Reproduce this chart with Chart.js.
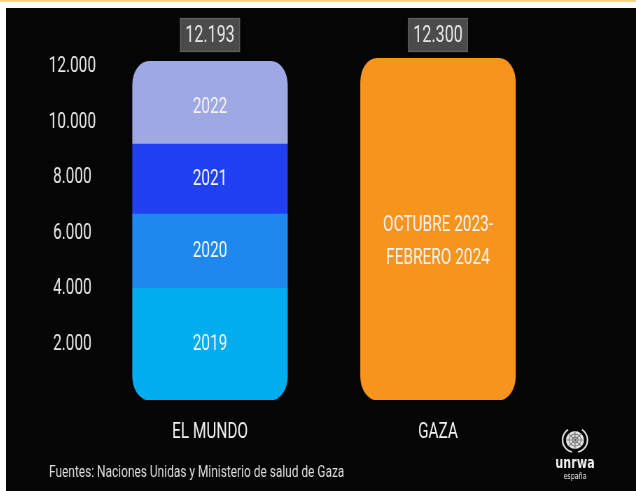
<!DOCTYPE html>
<html>
<head>
<meta charset="utf-8">
<script src="https://cdn.jsdelivr.net/npm/chart.js@4"></script>
<style>
  html, body { margin: 0; padding: 0; background: #fff; }
  body { width: 636px; height: 491px; position: relative; overflow: hidden; }
  #topline { position: absolute; left: 0; top: 0; width: 636px; height: 2px; background: #f8d487; }
  #panel { position: absolute; left: 6px; top: 8px; width: 630px; height: 483px; background: #050505; }
  #chart { display: block; }
</style>
</head>
<body>
<div id="topline"></div>
<!-- the bitmap is wider than its box: everything gets squeezed to look like a condensed typeface -->
<div id="panel"><canvas id="chart" width="900" height="483" style="width:630px;height:483px"></canvas></div>
<script>
const categories = ["EL MUNDO", "GAZA"]
const years = ["2019", "2020", "2021", "2022"]
const mundoByYear = [4019, 2674, 2515, 2985]
const yearColors = ["#00aeef", "#1e88ee", "#2040f2", "#9ea8e2"]
const gazaValue = 12300
const gazaLabel = ["OCTUBRE 2023-", "FEBRERO 2024"]
const gazaColor = "#f7941e"
const yTicks = [2000, 4000, 6000, 8000, 10000, 12000]
const sourceText = "Fuentes: Naciones Unidas y Ministerio de salud de Gaza"

const K = 0.7            // horizontal squeeze (630 / 900)
const FONT = "Roboto, 'Liberation Sans', sans-serif"
const R = 24

// 12193 -> "12.193"
const fmt = v => String(v).replace(/\B(?=(\d{3})+(?!\d))/g, ".")

const datasets = years.map((y, i) =>
{
    let radius = 0
    if (i == 0) radius = {bottomLeft: R, bottomRight: R, topLeft: 0, topRight: 0}
    if (i == years.length - 1) radius = {topLeft: R, topRight: R, bottomLeft: 0, bottomRight: 0}
    return {
        label: y,
        data: [mundoByYear[i], null],
        backgroundColor: yearColors[i],
        borderWidth: 0,
        borderSkipped: false,
        borderRadius: radius,
        barThickness: 155 / K,
        inner: [y],
    }
})
datasets.push({
    label: "Gaza",
    data: [null, gazaValue],
    backgroundColor: gazaColor,
    borderWidth: 0,
    borderSkipped: false,
    borderRadius: R,
    barThickness: 155 / K,
    inner: gazaLabel,
})

const totals = [mundoByYear.reduce((a, b) => a + b, 0), gazaValue]

function drawEmblem(ctx, cx, cy)
{
    ctx.save()
    ctx.translate(cx, cy)
    ctx.scale(1 / K, 1)
    ctx.fillStyle = "#e4e4e4"
    ctx.beginPath()
    ctx.arc(0, 0, 9, 0, Math.PI * 2)
    ctx.fill()
    ctx.strokeStyle = "#707070"
    ctx.lineWidth = 0.8
    for (const r of [3, 6])
    {
        ctx.beginPath()
        ctx.arc(0, 0, r, 0, Math.PI * 2)
        ctx.stroke()
    }
    for (let k = 0; k < 8; k++)
    {
        const a = k * Math.PI / 4
        ctx.beginPath()
        ctx.moveTo(0, 0)
        ctx.lineTo(Math.cos(a) * 9, Math.sin(a) * 9)
        ctx.stroke()
    }
    // olive branches
    ctx.strokeStyle = "#e4e4e4"
    ctx.lineWidth = 1.6
    for (const side of [-1, 1])
    {
        ctx.beginPath()
        for (let t = 0; t <= 10; t++)
        {
            const a = Math.PI / 2 + side * (0.25 + t * 0.23)
            const x = Math.cos(a) * 12.5
            const y = Math.sin(a) * 12.5
            if (t == 0) ctx.moveTo(x, y)
            else ctx.lineTo(x, y)
        }
        ctx.stroke()
    }
    ctx.restore()
}

const overlay = {
    id: "overlay",
    afterDatasetsDraw(chart)
    {
        const ctx = chart.ctx
        ctx.save()
        ctx.textAlign = "center"
        ctx.textBaseline = "middle"
        ctx.fillStyle = "#f4f4f4"
        ctx.font = "22px " + FONT
        chart.data.datasets.forEach((ds, i) =>
        {
            const meta = chart.getDatasetMeta(i)
            meta.data.forEach((bar, j) =>
            {
                if (ds.data[j] == null) return
                const p = bar.getProps(["x", "y", "base"], true)
                const lh = 33
                let cy = (p.y + p.base) / 2
                if (ds.inner.length > 1) cy += 13
                else if (i == years.length - 1) cy += 5   // rounded top segment reads a bit lower
                ds.inner.forEach((line, k) =>
                {
                    ctx.fillText(line, p.x, cy + (k - (ds.inner.length - 1) / 2) * lh)
                })
            })
        })

        // total boxes above the bars
        const xs = chart.scales.x
        const by = chart.chartArea.top + 24
        const bw = 60 / K
        totals.forEach((t, j) =>
        {
            const bx = xs.getPixelForValue(j)
            ctx.fillStyle = "#4b4b4b"
            ctx.fillRect(bx - bw / 2, by - 17, bw, 34)
            ctx.strokeStyle = "#616161"
            ctx.lineWidth = 1.2
            ctx.strokeRect(bx - bw / 2 + 0.6, by - 16.5, bw - 1.2, 33)
            ctx.fillStyle = "#e6e6e6"
            ctx.font = "23px " + FONT
            ctx.fillText(fmt(t), bx, by + 1)
        })

        // source + logo
        ctx.textAlign = "left"
        ctx.fillStyle = "#dedede"
        ctx.font = "17px " + FONT
        ctx.fillText(sourceText, 43 / K, 465)

        drawEmblem(ctx, 569 / K, 432)
        ctx.textAlign = "center"
        ctx.fillStyle = "#f0f0f0"
        ctx.font = "bold 16px 'DejaVu Sans', sans-serif"
        ctx.fillText("unrwa", 569 / K, 456)
        ctx.font = "9px 'DejaVu Sans', sans-serif"
        ctx.fillText("españa", 569 / K, 469)
        ctx.restore()
    }
}

const ctx = document.getElementById("chart")
const myChart = new Chart(ctx, {
    type: "bar",
    data: {
        labels: categories,
        datasets: datasets,
    },
    options: {
        responsive: false,
        animation: false,
        devicePixelRatio: 1,
        layout: {
            padding: {top: 3, right: 900 - 546 / K, left: 0, bottom: 0},
        },
        plugins: {
            legend: {display: false},
            tooltip: {enabled: false},
        },
        scales: {
            x: {
                stacked: true,
                grid: {display: false, drawTicks: false},
                border: {display: false},
                ticks: {
                    color: "#f2f2f2",
                    font: {family: FONT, size: 22},
                    padding: 19,
                },
                afterFit: s =>
                {
                    s.height = 91
                    s.paddingLeft = s.paddingRight = 0
                },
            },
            y: {
                stacked: true,
                min: 0,
                max: 14000,
                grid: {display: false, drawTicks: false},
                border: {display: false},
                afterBuildTicks: s => { s.ticks = yTicks.map(v => ({value: v})) },
                ticks: {
                    color: "#e6e6e6",
                    font: {family: FONT, size: 22},
                    crossAlign: "center",
                    padding: 0,
                    callback: v => fmt(v),
                },
                afterFit: s =>
                {
                    s.width = 90 / K
                    s.paddingTop = s.paddingBottom = 0
                },
            },
        },
    },
    plugins: [overlay],
})
</script>
</body>
</html>
